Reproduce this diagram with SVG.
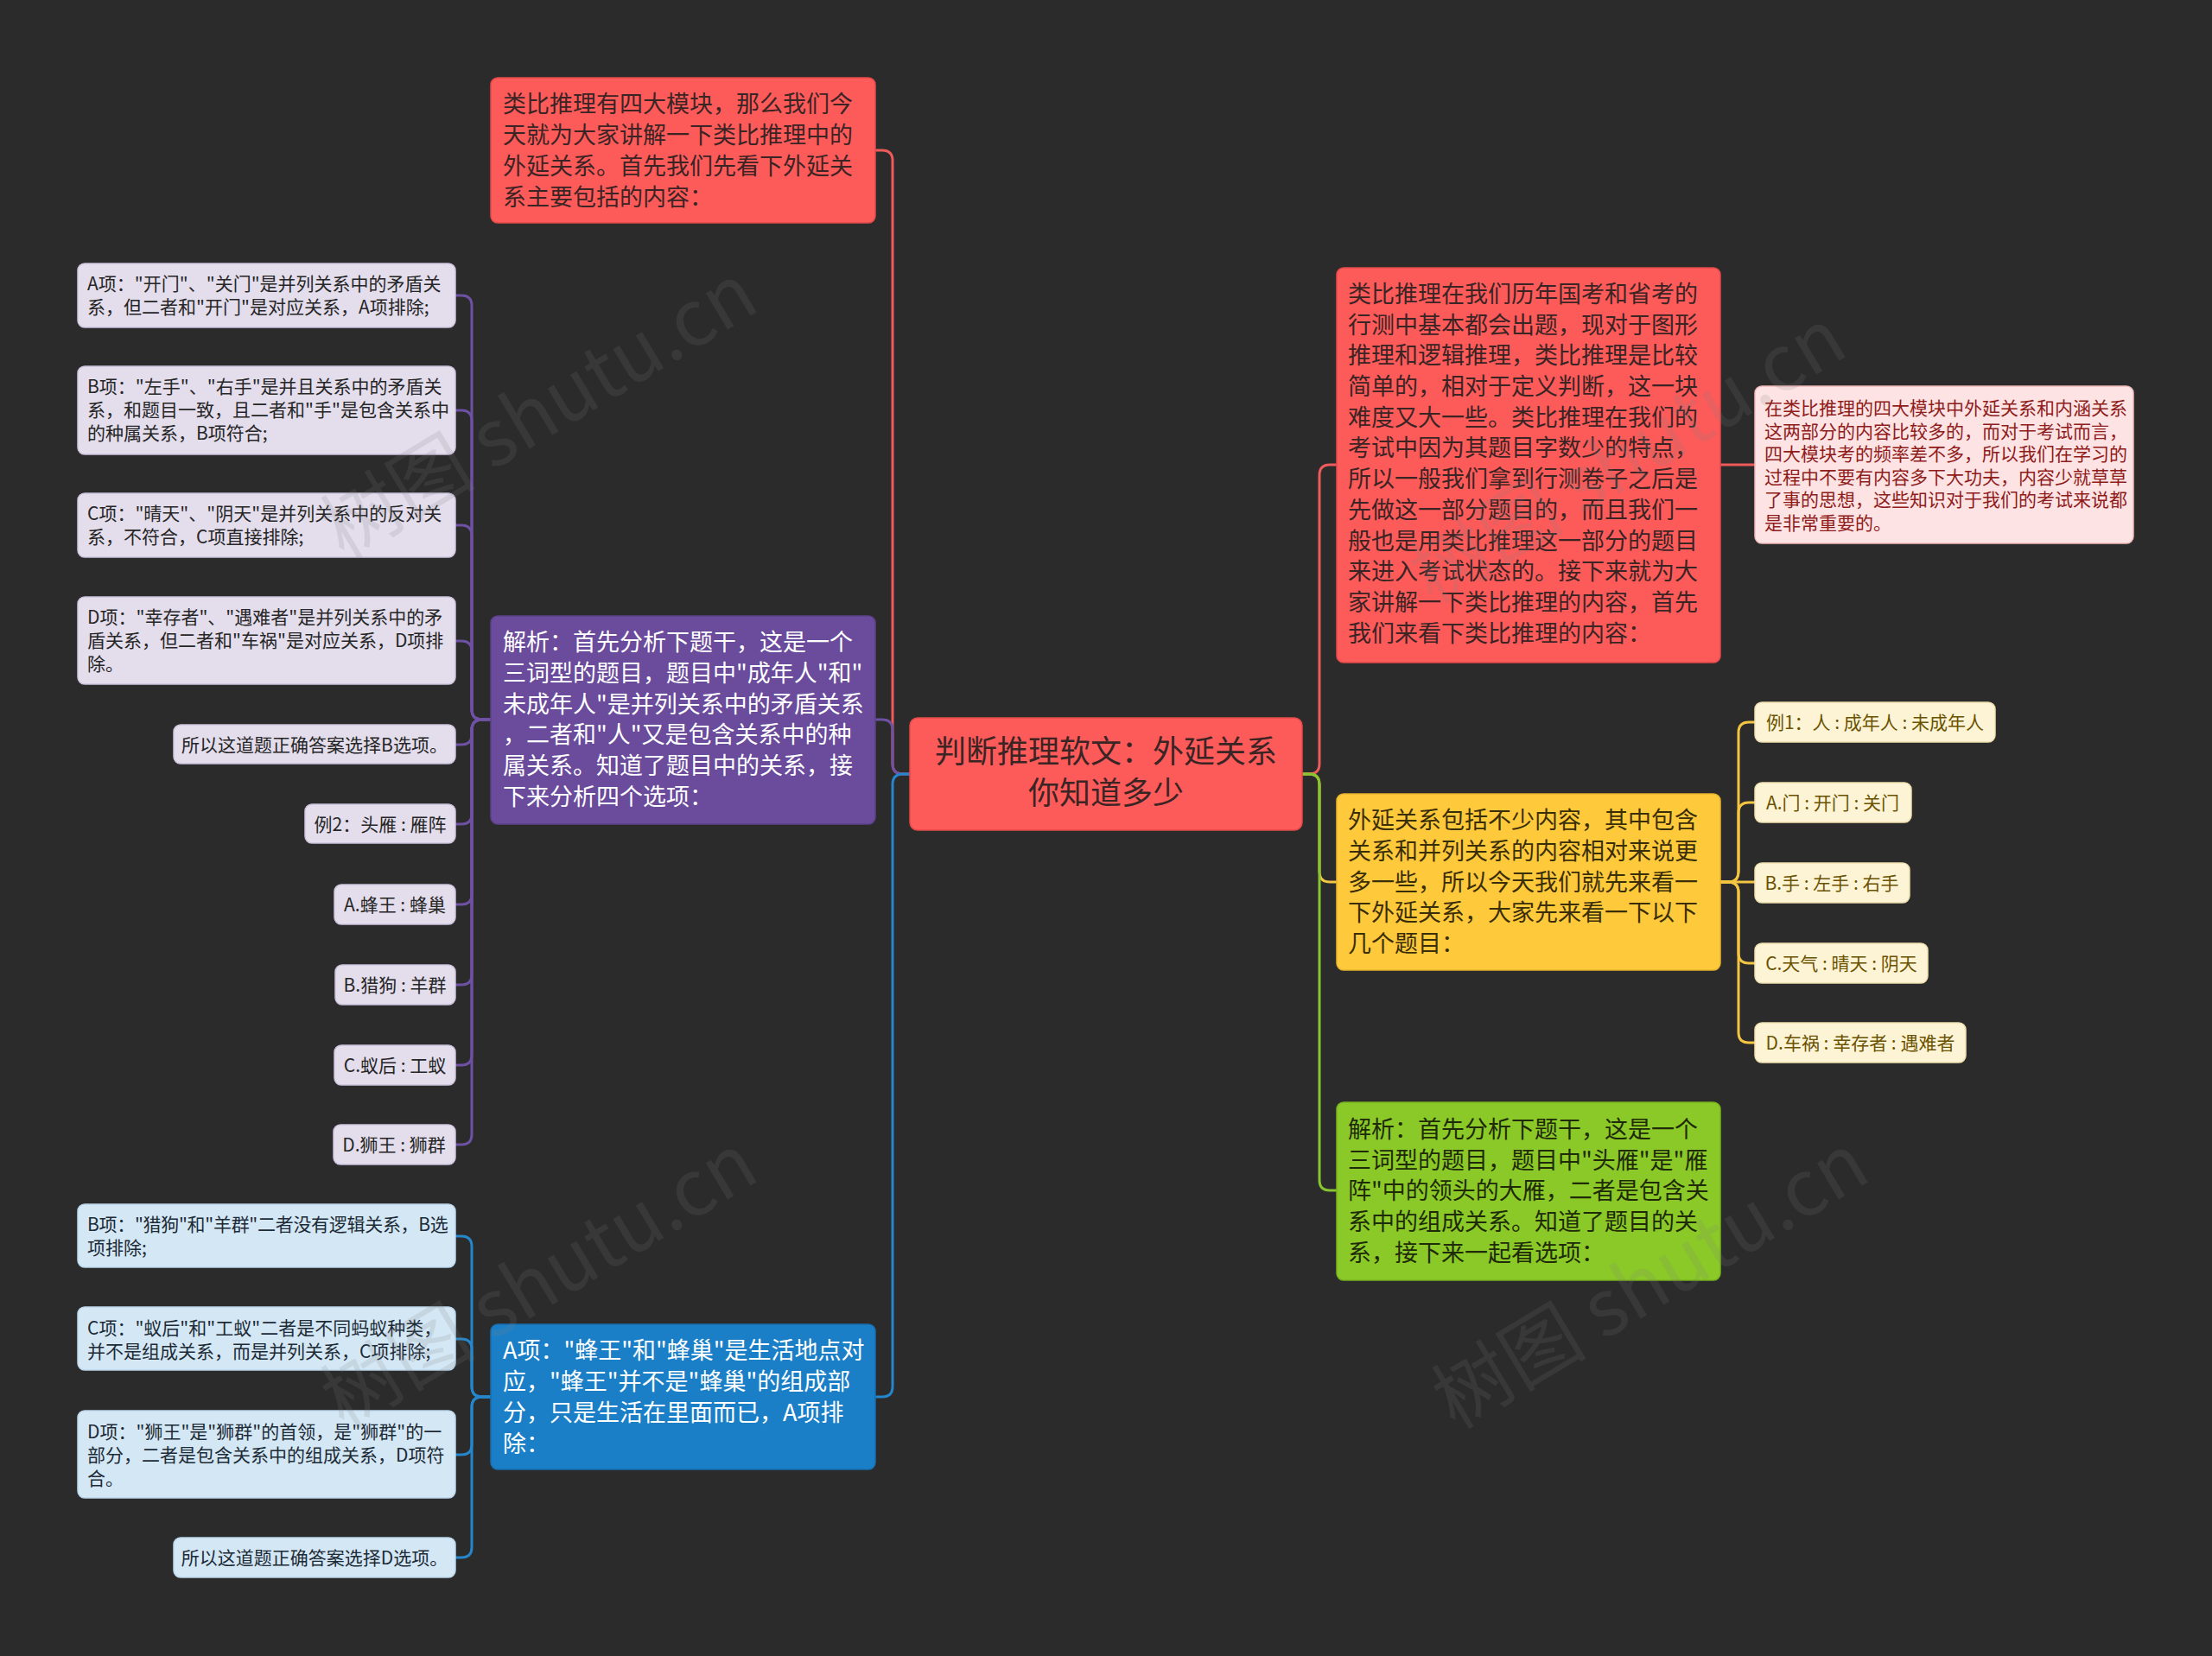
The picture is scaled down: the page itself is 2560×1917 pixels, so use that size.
<svg xmlns="http://www.w3.org/2000/svg" width="2560" height="1917" viewBox="0 0 2560 1917">
<style>
text{font-family:"Noto Sans CJK SC","Noto Sans",sans-serif}
.lk{fill:none;stroke-width:3;stroke-linecap:round;stroke-linejoin:round}
.lr{stroke:#ef5a5a}.lp{stroke:#6e51a2}.lb{stroke:#2586cc}.ly{stroke:#f4c542}.lg{stroke:#87c530}
.big{font-size:27px}
.sm{font-size:21px}
.nred{fill:#fd5a5a;stroke:#e54a4a;stroke-width:1.5}
.npur{fill:#6a4b9c;stroke:#5d4189;stroke-width:1.5}
.nblu{fill:#1b7fc7;stroke:#176fb0;stroke-width:1.5}
.nyel{fill:#fec93b;stroke:#e8b42c;stroke-width:1.5}
.ngrn{fill:#8ac927;stroke:#78b31e;stroke-width:1.5}
.npnk{fill:#fde3e3;stroke:#f1b9b9;stroke-width:1.5}
.nlav{fill:#e3ddec;stroke:#cdc3dc;stroke-width:1.5}
.nlbl{fill:#d4e7f5;stroke:#bcd6ea;stroke-width:1.5}
.ncrm{fill:#fdf4d6;stroke:#eedfae;stroke-width:1.5}
.tred{fill:#3a2424}.twht{fill:#ffffff}.tyel{fill:#3a2e08}.tgrn{fill:#1e2a08}
.tpnk{fill:#8f1b1b}.tlav{fill:#262626}.tlbl{fill:#1c2b36}.tcrm{fill:#6a5200}
.wm{font-size:90px;fill:#808080;opacity:0.16}
</style>
<rect x="0" y="0" width="2560" height="1917" fill="#2b2b2b"/>

<g id="connectors">
<path class="lk lr" d="M1053,896 L1045,896 Q1033,896 1033,884 L1033,186 Q1033,174 1021,174 L1012,174"/>
<path class="lk lp" d="M1053,896 L1045,896 Q1033,896 1033,884 L1033,845 Q1033,833 1021,833 L1012,833"/>
<path class="lk lb" d="M1053,896 L1045,896 Q1033,896 1033,908 L1033,1605 Q1033,1617 1021,1617 L1012,1617"/>
<path class="lk lr" d="M1507,896 L1515,896 Q1527,896 1527,884 L1527,550 Q1527,538 1539,538 L1547,538"/>
<path class="lk ly" d="M1507,896 L1515,896 Q1527,896 1527,908 L1527,1009 Q1527,1021 1539,1021 L1547,1021"/>
<path class="lk lg" d="M1507,896 L1515,896 Q1527,896 1527,908 L1527,1366 Q1527,1378 1539,1378 L1547,1378"/>
<path class="lk lr" d="M1991,538 L2031,538"/>
<path class="lk ly" d="M1991,1021 L2000,1021 Q2012,1021 2012,1009 L2012,848 Q2012,836 2024,836 L2031,836"/>
<path class="lk ly" d="M1991,1021 L2000,1021 Q2012,1021 2012,1009 L2012,941 Q2012,929 2024,929 L2031,929"/>
<path class="lk ly" d="M1991,1021 L2031,1021"/>
<path class="lk ly" d="M1991,1021 L2000,1021 Q2012,1021 2012,1033 L2012,1103 Q2012,1115 2024,1115 L2031,1115"/>
<path class="lk ly" d="M1991,1021 L2000,1021 Q2012,1021 2012,1033 L2012,1195 Q2012,1207 2024,1207 L2031,1207"/>
<path class="lk lp" d="M568,833 L558,833 Q546,833 546,821 L546,354 Q546,342 534,342 L527,342"/>
<path class="lk lp" d="M568,833 L558,833 Q546,833 546,821 L546,487 Q546,475 534,475 L527,475"/>
<path class="lk lp" d="M568,833 L558,833 Q546,833 546,821 L546,620 Q546,608 534,608 L527,608"/>
<path class="lk lp" d="M568,833 L558,833 Q546,833 546,821 L546,754 Q546,742 534,742 L527,742"/>
<path class="lk lp" d="M568,833 L558,833 Q546,833 546,845 L546,850 Q546,862 534,862 L527,862"/>
<path class="lk lp" d="M568,833 L558,833 Q546,833 546,845 L546,942 Q546,954 534,954 L527,954"/>
<path class="lk lp" d="M568,833 L558,833 Q546,833 546,845 L546,1035 Q546,1047 534,1047 L527,1047"/>
<path class="lk lp" d="M568,833 L558,833 Q546,833 546,845 L546,1128 Q546,1140 534,1140 L527,1140"/>
<path class="lk lp" d="M568,833 L558,833 Q546,833 546,845 L546,1221 Q546,1233 534,1233 L527,1233"/>
<path class="lk lp" d="M568,833 L558,833 Q546,833 546,845 L546,1313 Q546,1325 534,1325 L527,1325"/>
<path class="lk lb" d="M568,1617 L558,1617 Q546,1617 546,1605 L546,1443 Q546,1431 534,1431 L527,1431"/>
<path class="lk lb" d="M568,1617 L558,1617 Q546,1617 546,1605 L546,1562 Q546,1550 534,1550 L527,1550"/>
<path class="lk lb" d="M568,1617 L558,1617 Q546,1617 546,1629 L546,1672 Q546,1684 534,1684 L527,1684"/>
<path class="lk lb" d="M568,1617 L558,1617 Q546,1617 546,1629 L546,1791 Q546,1803 534,1803 L527,1803"/>
</g>

<g id="root">
<rect class="nred" x="1053" y="831" width="454" height="130" rx="9"/>
<text class="tred" font-size="36" text-anchor="middle"><tspan x="1280" y="883">判断推理软文：外延关系</tspan><tspan x="1280" y="931">你知道多少</tspan></text>
</g>

<g id="n-intro">
<rect class="nred" x="568" y="90" width="445" height="168" rx="8"/>
<text class="big tred"><tspan x="582" y="130">类比推理有四大模块，那么我们今</tspan><tspan x="582" y="166">天就为大家讲解一下类比推理中的</tspan><tspan x="582" y="202">外延关系。首先我们先看下外延关</tspan><tspan x="582" y="238">系主要包括的内容：</tspan></text>
</g>

<g id="n-analysis1">
<rect class="npur" x="568" y="713" width="445" height="241" rx="8"/>
<text class="big twht"><tspan x="582" y="753">解析：首先分析下题干，这是一个</tspan><tspan x="582" y="789">三词型的题目，题目中"成年人"和"</tspan><tspan x="582" y="825">未成年人"是并列关系中的矛盾关系</tspan><tspan x="582" y="860">，二者和"人"又是包含关系中的种</tspan><tspan x="582" y="896">属关系。知道了题目中的关系，接</tspan><tspan x="582" y="932">下来分析四个选项：</tspan></text>
</g>

<g id="n-a-answer">
<rect class="nblu" x="568" y="1533" width="445" height="168" rx="8"/>
<text class="big twht"><tspan x="582" y="1573">A项："蜂王"和"蜂巢"是生活地点对</tspan><tspan x="582" y="1609">应，"蜂王"并不是"蜂巢"的组成部</tspan><tspan x="582" y="1645">分，只是生活在里面而已，A项排</tspan><tspan x="582" y="1681">除：</tspan></text>
</g>

<g id="n-p1">
<rect class="nlav" x="90" y="305" width="437" height="74" rx="8"/>
<text class="sm tlav"><tspan x="101" y="336">A项："开门"、"关门"是并列关系中的矛盾关</tspan><tspan x="101" y="363">系，但二者和"开门"是对应关系，A项排除;</tspan></text>
</g>
<g id="n-p2">
<rect class="nlav" x="90" y="424" width="437" height="102" rx="8"/>
<text class="sm tlav"><tspan x="101" y="455">B项："左手"、"右手"是并且关系中的矛盾关</tspan><tspan x="101" y="482">系，和题目一致，且二者和"手"是包含关系中</tspan><tspan x="101" y="509">的种属关系，B项符合;</tspan></text>
</g>
<g id="n-p3">
<rect class="nlav" x="90" y="571" width="437" height="74" rx="8"/>
<text class="sm tlav"><tspan x="101" y="602">C项："晴天"、"阴天"是并列关系中的反对关</tspan><tspan x="101" y="629">系，不符合，C项直接排除;</tspan></text>
</g>
<g id="n-p4">
<rect class="nlav" x="90" y="691" width="437" height="101" rx="8"/>
<text class="sm tlav"><tspan x="101" y="722">D项："幸存者"、"遇难者"是并列关系中的矛</tspan><tspan x="101" y="749">盾关系，但二者和"车祸"是对应关系，D项排</tspan><tspan x="101" y="776">除。</tspan></text>
</g>
<g id="n-p5">
<rect class="nlav" x="201" y="839" width="326" height="45" rx="8"/>
<text class="sm tlav" x="364" y="870" text-anchor="middle">所以这道题正确答案选择B选项。</text>
</g>
<g id="n-p6">
<rect class="nlav" x="353" y="931" width="174" height="45" rx="8"/>
<text class="sm tlav" x="440" y="962" text-anchor="middle">例2：头雁 : 雁阵</text>
</g>
<g id="n-p7">
<rect class="nlav" x="387" y="1024" width="140" height="46" rx="8"/>
<text class="sm tlav" x="457" y="1055" text-anchor="middle">A.蜂王 : 蜂巢</text>
</g>
<g id="n-p8">
<rect class="nlav" x="388" y="1117" width="139" height="46" rx="8"/>
<text class="sm tlav" x="457" y="1148" text-anchor="middle">B.猎狗 : 羊群</text>
</g>
<g id="n-p9">
<rect class="nlav" x="387" y="1210" width="140" height="46" rx="8"/>
<text class="sm tlav" x="457" y="1241" text-anchor="middle">C.蚁后 : 工蚁</text>
</g>
<g id="n-p10">
<rect class="nlav" x="386" y="1302" width="141" height="46" rx="8"/>
<text class="sm tlav" x="456" y="1333" text-anchor="middle">D.狮王 : 狮群</text>
</g>

<g id="n-b1">
<rect class="nlbl" x="90" y="1394" width="437" height="73" rx="8"/>
<text class="sm tlbl"><tspan x="101" y="1425" letter-spacing="-0.3">B项："猎狗"和"羊群"二者没有逻辑关系，B选</tspan><tspan x="101" y="1452">项排除;</tspan></text>
</g>
<g id="n-b2">
<rect class="nlbl" x="90" y="1513" width="437" height="73" rx="8"/>
<text class="sm tlbl"><tspan x="101" y="1545">C项："蚁后"和"工蚁"二者是不同蚂蚁种类，</tspan><tspan x="101" y="1572">并不是组成关系，而是并列关系，C项排除;</tspan></text>
</g>
<g id="n-b3">
<rect class="nlbl" x="90" y="1633" width="437" height="101" rx="8"/>
<text class="sm tlbl"><tspan x="101" y="1665">D项："狮王"是"狮群"的首领，是"狮群"的一</tspan><tspan x="101" y="1692">部分，二者是包含关系中的组成关系，D项符</tspan><tspan x="101" y="1719">合。</tspan></text>
</g>
<g id="n-b4">
<rect class="nlbl" x="201" y="1780" width="326" height="46" rx="8"/>
<text class="sm tlbl" x="364" y="1811" text-anchor="middle">所以这道题正确答案选择D选项。</text>
</g>

<g id="n-right1">
<rect class="nred" x="1547" y="310" width="444" height="457" rx="8"/>
<text class="big tred"><tspan x="1560" y="350">类比推理在我们历年国考和省考的</tspan><tspan x="1560" y="386">行测中基本都会出题，现对于图形</tspan><tspan x="1560" y="421">推理和逻辑推理，类比推理是比较</tspan><tspan x="1560" y="457">简单的，相对于定义判断，这一块</tspan><tspan x="1560" y="493">难度又大一些。类比推理在我们的</tspan><tspan x="1560" y="528">考试中因为其题目字数少的特点，</tspan><tspan x="1560" y="564">所以一般我们拿到行测卷子之后是</tspan><tspan x="1560" y="600">先做这一部分题目的，而且我们一</tspan><tspan x="1560" y="636">般也是用类比推理这一部分的题目</tspan><tspan x="1560" y="671">来进入考试状态的。接下来就为大</tspan><tspan x="1560" y="707">家讲解一下类比推理的内容，首先</tspan><tspan x="1560" y="743">我们来看下类比推理的内容：</tspan></text>
</g>

<g id="n-pink">
<rect class="npnk" x="2031" y="447" width="438" height="182" rx="8"/>
<text class="sm tpnk"><tspan x="2042" y="480">在类比推理的四大模块中外延关系和内涵关系</tspan><tspan x="2042" y="507">这两部分的内容比较多的，而对于考试而言，</tspan><tspan x="2042" y="533">四大模块考的频率差不多，所以我们在学习的</tspan><tspan x="2042" y="560">过程中不要有内容多下大功夫，内容少就草草</tspan><tspan x="2042" y="586">了事的思想，这些知识对于我们的考试来说都</tspan><tspan x="2042" y="613">是非常重要的。</tspan></text>
</g>

<g id="n-yellow">
<rect class="nyel" x="1547" y="919" width="444" height="204" rx="8"/>
<text class="big tyel"><tspan x="1560" y="959">外延关系包括不少内容，其中包含</tspan><tspan x="1560" y="995">关系和并列关系的内容相对来说更</tspan><tspan x="1560" y="1031">多一些，所以今天我们就先来看一</tspan><tspan x="1560" y="1066">下外延关系，大家先来看一下以下</tspan><tspan x="1560" y="1102">几个题目：</tspan></text>
</g>

<g id="n-y1">
<rect class="ncrm" x="2031" y="813" width="278" height="46" rx="8"/>
<text class="sm tcrm" x="2170" y="844" text-anchor="middle">例1：人 : 成年人 : 未成年人</text>
</g>
<g id="n-y2">
<rect class="ncrm" x="2031" y="906" width="181" height="46" rx="8"/>
<text class="sm tcrm" x="2121" y="937" text-anchor="middle">A.门 : 开门 : 关门</text>
</g>
<g id="n-y3">
<rect class="ncrm" x="2031" y="999" width="179" height="46" rx="8"/>
<text class="sm tcrm" x="2120" y="1030" text-anchor="middle">B.手 : 左手 : 右手</text>
</g>
<g id="n-y4">
<rect class="ncrm" x="2031" y="1092" width="200" height="46" rx="8"/>
<text class="sm tcrm" x="2131" y="1123" text-anchor="middle">C.天气 : 晴天 : 阴天</text>
</g>
<g id="n-y5">
<rect class="ncrm" x="2031" y="1184" width="244" height="46" rx="8"/>
<text class="sm tcrm" x="2153" y="1215" text-anchor="middle">D.车祸 : 幸存者 : 遇难者</text>
</g>

<g id="n-green">
<rect class="ngrn" x="1547" y="1276" width="444" height="206" rx="8"/>
<text class="big tgrn"><tspan x="1560" y="1317">解析：首先分析下题干，这是一个</tspan><tspan x="1560" y="1353">三词型的题目，题目中"头雁"是"雁</tspan><tspan x="1560" y="1388">阵"中的领头的大雁，二者是包含关</tspan><tspan x="1560" y="1424">系中的组成关系。知道了题目的关</tspan><tspan x="1560" y="1460">系，接下来一起看选项：</tspan></text>
</g>

<g id="watermarks">
<text class="wm" x="640" y="503" text-anchor="middle" transform="rotate(-31 640 503)">树图 shutu.cn</text>
<text class="wm" x="1900" y="555" text-anchor="middle" transform="rotate(-31 1900 555)">树图 shutu.cn</text>
<text class="wm" x="640" y="1510" text-anchor="middle" transform="rotate(-31 640 1510)">树图 shutu.cn</text>
<text class="wm" x="1926" y="1510" text-anchor="middle" transform="rotate(-31 1926 1510)">树图 shutu.cn</text>
</g>
</svg>
